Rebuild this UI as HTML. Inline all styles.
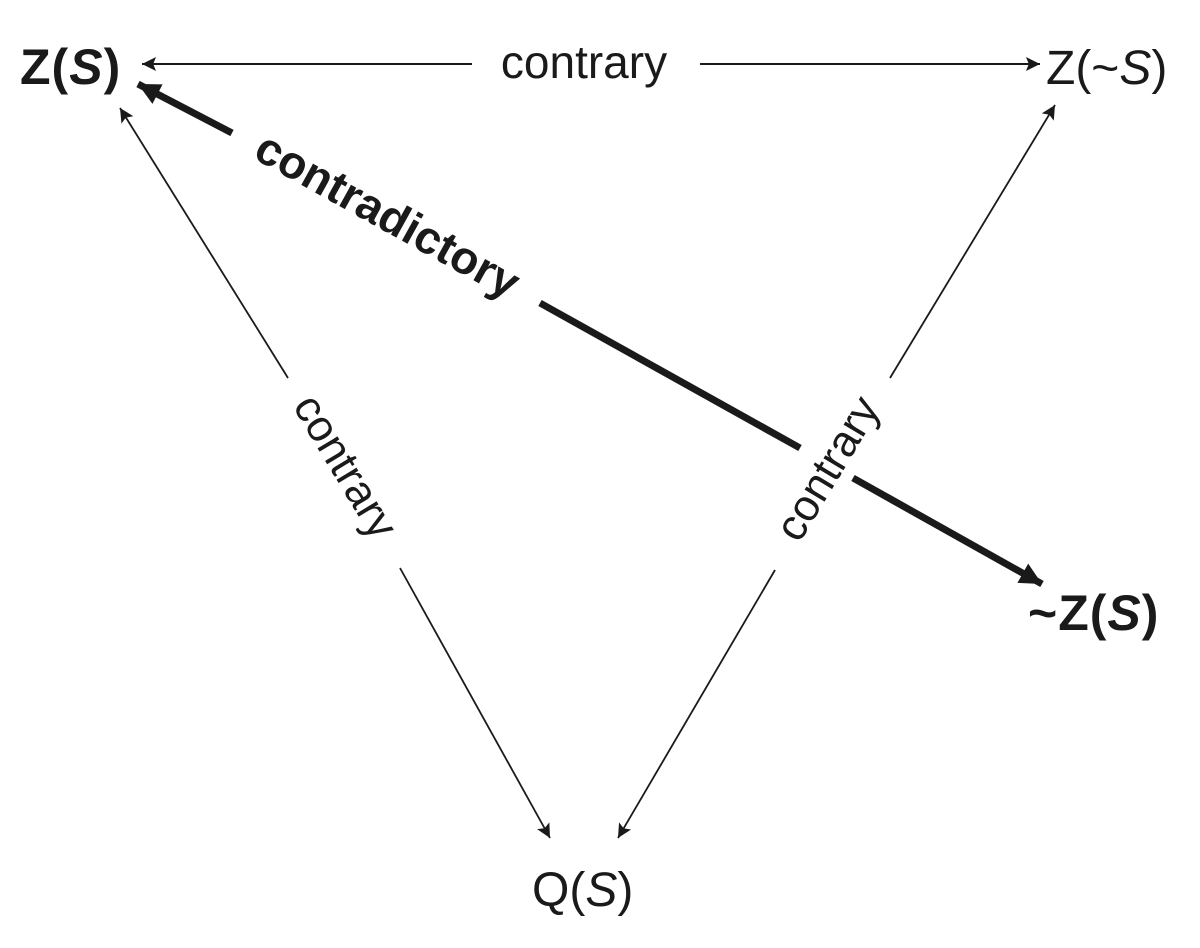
<!DOCTYPE html>
<html><head><style>
html,body{margin:0;padding:0;background:#fff;}
svg{display:block;}
text{font-family:"Liberation Sans",sans-serif;fill:#1a1a1a;}
</style></head><body>
<svg width="1200" height="948" viewBox="0 0 1200 948" xmlns="http://www.w3.org/2000/svg">
<defs>
<marker id="a" viewBox="0 0 10 10" refX="10" refY="5" markerWidth="22" markerHeight="14" markerUnits="userSpaceOnUse" orient="auto-start-reverse">
<path d="M0,0 L10,5 L0,10 L2,5 z" fill="#1a1a1a"/></marker>
<marker id="A" viewBox="0 0 10 10" refX="10" refY="5" markerWidth="32" markerHeight="22" markerUnits="userSpaceOnUse" orient="auto-start-reverse">
<path d="M0,0 L10,5 L0,10 z" fill="#1a1a1a"/></marker>
</defs>
<g font-size="50">
<text x="20" y="84" font-weight="bold" letter-spacing="1">Z(<tspan font-style="italic">S</tspan>)</text>
<text x="1046" y="84" font-size="48">Z(~<tspan font-style="italic">S</tspan>)</text>
<text x="1028" y="630" font-weight="bold" letter-spacing="1">~Z(<tspan font-style="italic">S</tspan>)</text>
<text x="532" y="906" font-size="48">Q(<tspan font-style="italic">S</tspan>)</text>
<text x="584" y="78" text-anchor="middle" font-size="46">contrary</text>
</g>
<line x1="142" y1="64" x2="472" y2="64" stroke="#1a1a1a" stroke-width="2" marker-start="url(#a)"/>
<line x1="700" y1="64" x2="1040" y2="64" stroke="#1a1a1a" stroke-width="2" marker-end="url(#a)"/>
<line x1="232" y1="133" x2="138" y2="84" stroke="#1a1a1a" stroke-width="7" marker-end="url(#A)"/>
<line x1="540" y1="303" x2="800" y2="448" stroke="#1a1a1a" stroke-width="7"/>
<line x1="853" y1="478" x2="1042" y2="584" stroke="#1a1a1a" stroke-width="7" marker-end="url(#A)"/>
<text transform="translate(386,218) rotate(29)" text-anchor="middle" font-size="46" font-weight="bold" dominant-baseline="middle">contradictory</text>
<line x1="288" y1="378" x2="120" y2="108" stroke="#1a1a1a" stroke-width="1.8" marker-end="url(#a)"/>
<line x1="400" y1="568" x2="550" y2="838" stroke="#1a1a1a" stroke-width="1.8" marker-end="url(#a)"/>
<text transform="translate(343,468) rotate(59)" text-anchor="middle" font-size="44" dominant-baseline="middle">contrary</text>
<line x1="890" y1="378" x2="1055" y2="105" stroke="#1a1a1a" stroke-width="1.8" marker-end="url(#a)"/>
<line x1="775" y1="570" x2="618" y2="838" stroke="#1a1a1a" stroke-width="1.8" marker-end="url(#a)"/>
<text transform="translate(830,470) rotate(-59)" text-anchor="middle" font-size="44" dominant-baseline="middle">contrary</text>
</svg>
</body></html>
